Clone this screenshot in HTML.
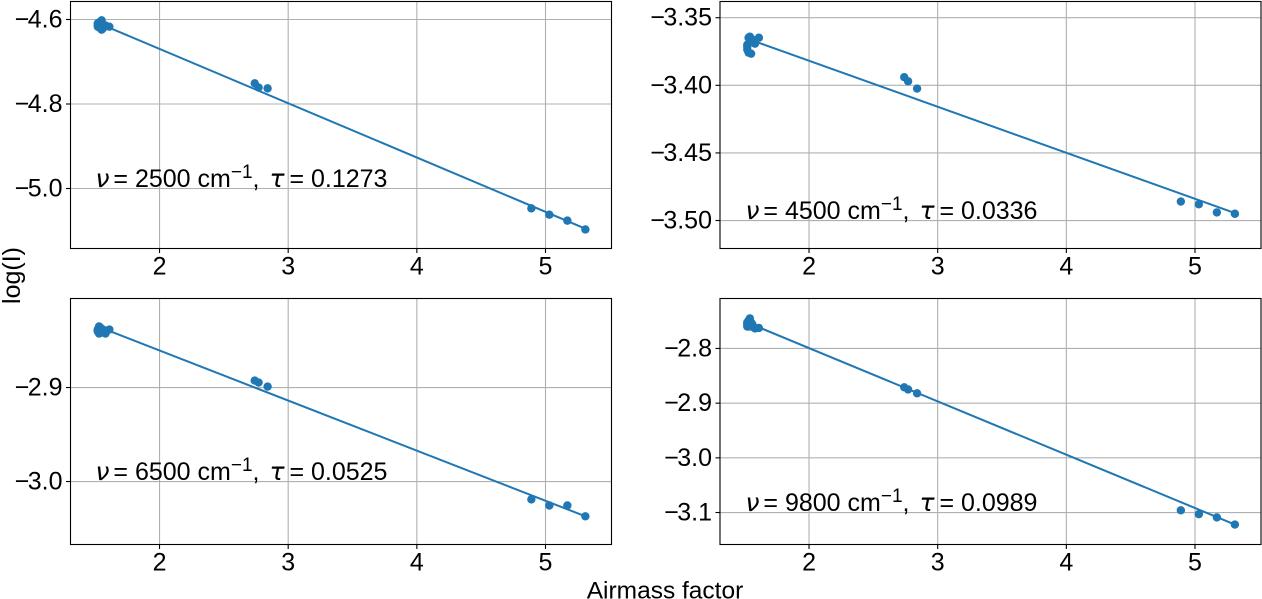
<!DOCTYPE html>
<html lang="en">
<head>
<meta charset="utf-8">
<title>Airmass factor vs log(I)</title>
<style>
html,body{margin:0;padding:0;background:#fff;width:1262px;height:599px;overflow:hidden}
svg{display:block}
text{font-family:"Liberation Sans",sans-serif;fill:#000}
.m{font-family:"DejaVu Sans",sans-serif;font-style:italic}
</style>
</head>
<body>
<svg id="fig" xmlns="http://www.w3.org/2000/svg" width="1262" height="599" viewBox="0 0 1262 599">
<text x="0" y="0" font-size="25" text-anchor="middle" transform="translate(20,275.5) rotate(-90)">log(I)</text>
<text x="665" y="599" dy="-0.5" font-size="24.5" text-anchor="middle">Airmass factor</text>
</svg>
<script>
const airmass = [1.52,1.52,1.52,1.53,1.53,1.54,1.55,1.55,1.56,1.58,1.61,2.74,2.77,2.84,4.89,5.03,5.17,5.31];
const xTicks = [2,3,4,5];
const fitX = [1.52,5.31];

const logI2500 = [-4.609,-4.614,-4.617,-4.607,-4.619,-4.612,-4.602,-4.624,-4.621,-4.614,-4.617,-4.751,-4.761,-4.763,-5.047,-5.062,-5.076,-5.097];
const logI4500 = [-3.370,-3.3714,-3.3736,-3.3758,-3.3648,-3.364,-3.3766,-3.3677,-3.3662,-3.3692,-3.3648,-3.394,-3.397,-3.4024,-3.486,-3.488,-3.494,-3.495];
const logI6500 = [-2.8404,-2.8383,-2.8394,-2.8426,-2.8351,-2.8362,-2.8404,-2.8415,-2.8383,-2.8426,-2.8383,-2.8926,-2.8947,-2.899,-3.019,-3.0255,-3.0255,-3.037];
const logI9800 = [-2.7525,-2.756,-2.7598,-2.7598,-2.7488,-2.745,-2.7598,-2.7525,-2.756,-2.7634,-2.7625,-2.871,-2.875,-2.882,-3.096,-3.103,-3.109,-3.122];

const fit2500 = [-4.608,-5.095];
const fit4500 = [-3.3655,-3.4945];
const fit6500 = [-2.835,-3.037];
const fit9800 = [-2.7525,-3.122];

const yTicks2500 = [-4.6,-4.8,-5.0];
const yTicks4500 = [-3.35,-3.40,-3.45,-3.50];
const yTicks6500 = [-2.9,-3.0];
const yTicks9800 = [-2.8,-2.9,-3.0,-3.1];

const wavenumbers = ["2500","4500","6500","9800"];
const taus = ["0.1273","0.0336","0.0525","0.0989"];

const xDomain = [1.308,5.513];
const yDomains = [[-5.142,-4.5574],[-3.5207,-3.338],[-3.067,-2.8053],[-3.1585,-2.7086]];

const panels = [
  {box:[70.5,1.5,541,247], ys:logI2500, fit:fit2500, ticks:yTicks2500, dec:1},
  {box:[720,1.5,541,247], ys:logI4500, fit:fit4500, ticks:yTicks4500, dec:2},
  {box:[70.5,298.5,541,246], ys:logI6500, fit:fit6500, ticks:yTicks6500, dec:1},
  {box:[720,298.5,541,246], ys:logI9800, fit:fit9800, ticks:yTicks9800, dec:1}
];
const labelOffset = [187,219,480,511];

const NS = "http://www.w3.org/2000/svg";
const fig = document.getElementById("fig");
function mk(tag, attrs, parent){
  const e = document.createElementNS(NS, tag);
  for (const k in attrs) e.setAttribute(k, attrs[k]);
  parent.appendChild(e);
  return e;
}
panels.forEach(function(p, i){
  const L = p.box[0], T = p.box[1], W = p.box[2], H = p.box[3];
  const dom = yDomains[i];
  const sx = function(v){ return L + (v - xDomain[0]) / (xDomain[1] - xDomain[0]) * W; };
  const sy = function(v){ return T + H - (v - dom[0]) / (dom[1] - dom[0]) * H; };

  const g = mk("g", {}, fig);
  
  

  xTicks.forEach(function(t){
    const x = sx(t);
    const gl = mk("line", {x1:x, x2:x, y1:T, y2:T+H, stroke:"#b0b0b0", "stroke-width":1.1}, g);
    
    
    const tk = mk("line", {x1:x, x2:x, y1:T+H, y2:T+H+4.5, stroke:"#000", "stroke-width":1.1}, g);
    
    
    const lb = mk("text", {x:x, y:T+H+26, "font-size":25, "text-anchor":"middle"}, g);
    
    
    lb.textContent = String(t);
  });

  p.ticks.forEach(function(t){
    const y = sy(t);
    const gl = mk("line", {x1:L, x2:L+W, y1:y, y2:y, stroke:"#b0b0b0", "stroke-width":1.1}, g);
    
    
    const tk = mk("line", {x1:L-4.5, x2:L, y1:y, y2:y, stroke:"#000", "stroke-width":1.1}, g);
    
    
    const lb = mk("text", {x:L-8, y:y+8, "font-size":25, "text-anchor":"end"}, g);
    
    
    mk("tspan", {}, lb).textContent = "\u2212";
    mk("tspan", {dx:-1.5}, lb).textContent = Math.abs(t).toFixed(p.dec);
  });

  const ln = mk("line", {x1:sx(fitX[0]), y1:sy(p.fit[0]), x2:sx(fitX[1]), y2:sy(p.fit[1]), stroke:"#1f77b4", "stroke-width":2}, g);
  
  

  airmass.forEach(function(a, j){
    const c = mk("circle", {cx:sx(a), cy:sy(p.ys[j]), r:4.2, fill:"#1f77b4"}, g);
    
    
  });

  const fr = mk("rect", {x:L, y:T, width:W, height:H, fill:"none", stroke:"#000", "stroke-width":1.1}, g);
  
  

  const tx = mk("text", {x:Math.floor(L)+25.5, y:labelOffset[i], "font-size":25}, g);
  
  
  mk("tspan", {class:"m"}, tx).textContent = "\u03bd";
  mk("tspan", {dx:-3}, tx).textContent = " = " + wavenumbers[i] + " cm";
  mk("tspan", {dy:-9, "font-size":19}, tx).textContent = "\u22121";
  mk("tspan", {dy:9}, tx).textContent = ", ";
  mk("tspan", {class:"m", dx:3}, tx).textContent = "\u03c4";
  mk("tspan", {dx:-2}, tx).textContent = " = " + taus[i];
});
</script>
</body>
</html>
